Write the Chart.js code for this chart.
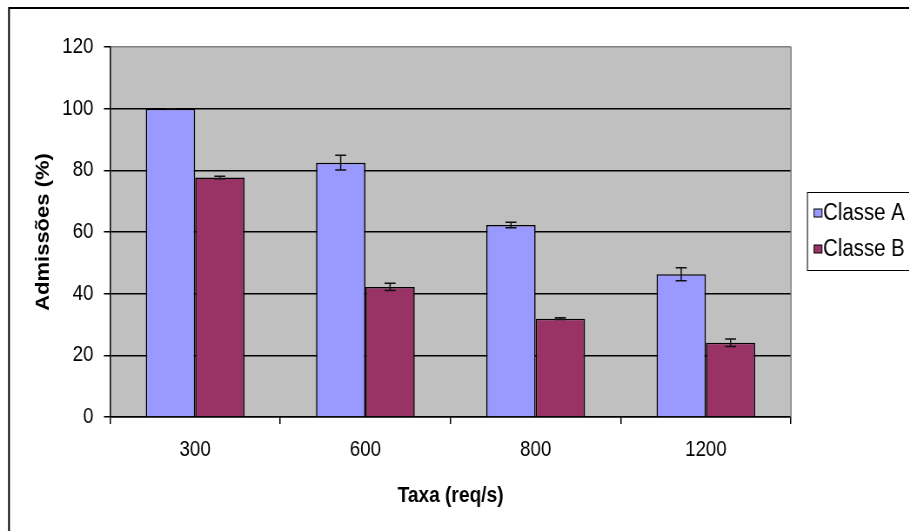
<!DOCTYPE html>
<html>
<head>
<meta charset="utf-8">
<script src="https://cdn.jsdelivr.net/npm/chart.js@4.4.0/dist/chart.umd.min.js"></script>
<style>
  html, body { margin: 0; padding: 0; background: #fff; overflow: hidden; }
  #wrap { width: 909px; height: 531px; overflow: hidden; }
  /* the original chart is squeezed horizontally, so draw wider and squeeze */
  #chart { transform: scaleX(0.87); transform-origin: 0 0; }
</style>
</head>
<body>
<div id="wrap"><canvas id="chart" width="1045" height="531"></canvas></div>
<script>
const categories = ["300", "600", "800", "1200"];
const classeA = [100, 82.5, 62.3, 46.3];
const classeAErr = [0, 2.4, 0.9, 2.1];
const classeB = [77.7, 42.2, 31.9, 24.1];
const classeBErr = [0.4, 1.2, 0.3, 1.2];
const yTicks = [0, 20, 40, 60, 80, 100, 120];

var S = 0.87;
function cx(px) { return px / S; }   // screen px -> canvas px
var FONT = "'Liberation Sans', Arial, sans-serif";

var ctx = document.getElementById("chart").getContext("2d");

var background = {
  id: "background",
  beforeDraw: function(chart) {
    var c = chart.ctx, a = chart.chartArea;
    c.save();
    c.fillStyle = "#fff";
    c.fillRect(0, 0, chart.width, chart.height);
    // outer frame (runs off the page on right and bottom)
    c.strokeStyle = "#000";
    c.lineWidth = 2;
    c.beginPath();
    c.moveTo(cx(9), chart.height + 5);
    c.lineTo(cx(9), 8);
    c.lineTo(chart.width + 5, 8);
    c.stroke();
    c.fillStyle = "#c0c0c0";
    c.fillRect(a.left, a.top, a.right - a.left, a.bottom - a.top);
    c.restore();
  },
  beforeDatasetsDraw: function(chart) {
    var c = chart.ctx, a = chart.chartArea;
    c.save();
    c.strokeStyle = "#808080";
    c.lineWidth = 1.5;
    c.beginPath();
    c.moveTo(a.right, a.top);
    c.lineTo(a.right, a.bottom);
    c.stroke();
    c.restore();
  }
};

var errorBars = {
  id: "errorBars",
  afterDatasetsDraw: function(chart) {
    var c = chart.ctx, y = chart.scales.y;
    c.save();
    c.strokeStyle = "#111";
    c.lineWidth = 1.5;
    chart.data.datasets.forEach(function(ds, i) {
      var meta = chart.getDatasetMeta(i);
      meta.data.forEach(function(bar, j) {
        var v = ds.data[j], e = ds.errors[j];
        var hi = y.getPixelForValue(v + e), lo = y.getPixelForValue(v - e);
        var w = cx(5.5);
        c.beginPath();
        c.moveTo(bar.x, hi); c.lineTo(bar.x, lo);
        c.moveTo(bar.x - w, hi); c.lineTo(bar.x + w, hi);
        c.moveTo(bar.x - w, lo); c.lineTo(bar.x + w, lo);
        c.stroke();
      });
    });
    c.restore();
  }
};

var legendBox = {
  id: "legendBox",
  afterDraw: function(chart) {
    var c = chart.ctx;
    var left = cx(807), top = 192, bottom = 270;
    c.save();
    c.fillStyle = "#fff";
    c.fillRect(left, top, 200, bottom - top);
    c.strokeStyle = "#000";
    c.lineWidth = 1;
    c.strokeRect(left + 0.5, top + 0.5, 200, bottom - top);
    var rows = [213, 249];
    c.font = "23.5px " + FONT;
    c.textBaseline = "middle";
    c.textAlign = "left";
    chart.data.datasets.forEach(function(ds, i) {
      var r = rows[i];
      c.fillStyle = ds.backgroundColor;
      c.fillRect(cx(814), r - 4, cx(8), 8);
      c.strokeStyle = "#000";
      c.strokeRect(cx(814), r - 4, cx(8), 8);
      c.fillStyle = "#000";
      c.fillText(ds.label, cx(823), r + 1);
    });
    c.restore();
  }
};

var chart = new Chart(ctx, {
  type: "bar",
  data: {
    labels: categories,
    datasets: [
      { label: "Classe A", data: classeA, errors: classeAErr,
        backgroundColor: "#9999ff", borderColor: "#000", borderWidth: 1.6,
        categoryPercentage: 0.58, barPercentage: 1 },
      { label: "Classe B", data: classeB, errors: classeBErr,
        backgroundColor: "#993366", borderColor: "#000", borderWidth: 1.6,
        categoryPercentage: 0.58, barPercentage: 1 }
    ]
  },
  options: {
    responsive: false,
    animation: false,
    layout: { padding: { top: 47, right: 1045 - cx(791), left: 0, bottom: 0 } },
    plugins: { legend: { display: false }, tooltip: { enabled: false } },
    scales: {
      x: {
        afterFit: function(s) { s.height = 531 - 417; },
        grid: { drawOnChartArea: false, drawTicks: true, tickLength: 7, tickColor: "#000", lineWidth: 1.5 },
        border: { color: "#000", width: 1.5 },
        ticks: { color: "#000", font: { family: FONT, size: 21.5 }, padding: 13, maxRotation: 0 },
        title: { display: true, text: "Taxa (req/s)", color: "#000",
                 font: { family: FONT, size: 22, weight: "bold" }, padding: { top: 0, bottom: 22 } }
      },
      y: {
        min: 0, max: 120,
        afterFit: function(s) { s.width = cx(110); },
        afterBuildTicks: function(s) { s.ticks = yTicks.map(function(v) { return { value: v }; }); },
        grid: {
          color: function(c) { return c.tick && c.tick.value === 120 ? "#808080" : "#000"; },
          lineWidth: 1.5, tickLength: 7, tickColor: "#000"
        },
        border: { color: "#000", width: 1.5 },
        ticks: { color: "#000", font: { family: FONT, size: 21.5 }, padding: 12 },
        title: { display: true, text: "Admissões (%)", color: "#000",
                 font: { family: FONT, size: 22, weight: "bold" }, padding: { top: 37, bottom: 0 } }
      }
    }
  },
  plugins: [background, errorBars, legendBox]
});
</script>
</body>
</html>
